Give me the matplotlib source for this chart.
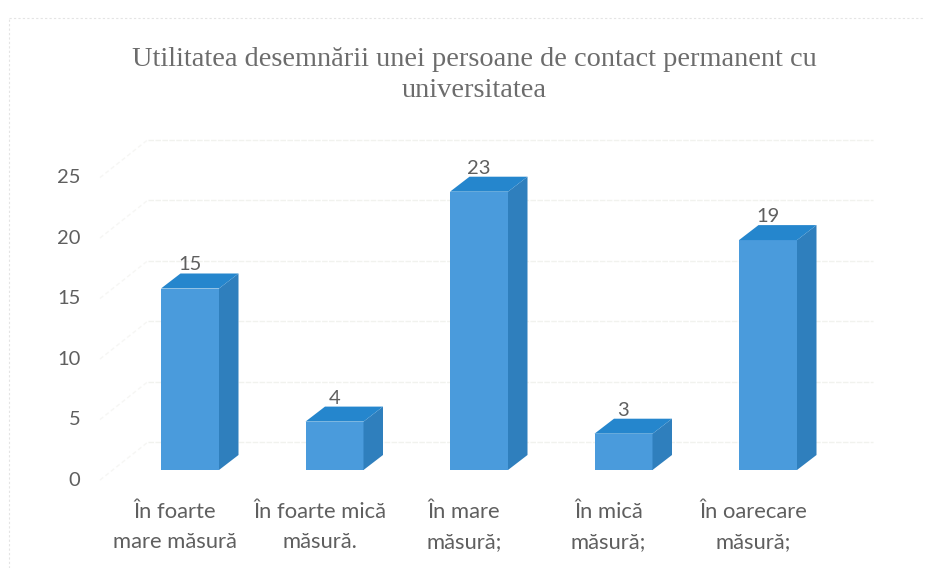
import matplotlib.pyplot as plt
from matplotlib.patches import Polygon
from matplotlib.lines import Line2D

title = "Utilitatea desemnării unei persoane de contact permanent cu\nuniversitatea"
categories = ["În foarte\nmare măsură", "În foarte mică\nmăsură.", "În mare\nmăsură;",
              "În mică\nmăsură;", "În oarecare\nmăsură;"]
values = [15, 4, 23, 3, 19]
yticks = [0, 5, 10, 15, 20, 25]

W, H = 925, 568
# pixels per category / per unit, used to place the axes
x0, dx_px = 190, 144.5
y0, dy_px = 470, 12.1

fig = plt.figure(figsize=(W / 100, H / 100), dpi=100, facecolor="white")
left = x0 - 0.5 * dx_px
bottom = H - y0
ax = fig.add_axes([left / W, bottom / H, 5 * dx_px / W, 25 * dy_px / H])
ax.set_xlim(-0.5, 4.5)
ax.set_ylim(0, 25)
ax.axis("off")

text_col = "#5f5f5f"
front, side, top = "#4a9bdc", "#2f7fbd", "#2586cd"
bar_w = 58 / dx_px
depth_x = 19.5 / dx_px
depth_y = 15 / dy_px

# back wall: gridlines plus the diagonals coming from the axis
wall_x = 48 / dx_px
wall_start = (100 - x0) / dx_px
for t in yticks:
    yb = t + 2.31
    ax.add_line(Line2D([wall_start + wall_x, 4.727], [yb, yb], color="#f1f2ee", lw=1,
                       ls=(0, (4, 1)), clip_on=False, zorder=1))
    ax.add_line(Line2D([wall_start, wall_start + wall_x], [t - 0.83, yb], color="#f6f6f4", lw=1,
                       ls=(0, (3, 2)), clip_on=False, zorder=1))
    ax.text(-0.7595, t - 0.83, str(t), ha="right", va="center", fontsize=14.5,
            family="Lato", color=text_col)

# 3D look: top and side faces next to the real bars
pos = list(range(len(values)))
ax.bar(pos, values, width=bar_w, color=front, zorder=3, clip_on=False)
for i, v in zip(pos, values):
    l, r = i - bar_w / 2, i + bar_w / 2
    ax.add_patch(Polygon([(r, 0), (r + depth_x, depth_y), (r + depth_x, v + depth_y), (r, v)],
                         color=side, lw=0, zorder=3, clip_on=False))
    ax.add_patch(Polygon([(l, v), (l + depth_x, v + depth_y), (r + depth_x, v + depth_y), (r, v)],
                         color=top, lw=0, zorder=3, clip_on=False))
    ax.annotate(str(v), (i, v + depth_y), xytext=(0, 0), textcoords="offset points",
                ha="center", va="bottom", fontsize=14.5, family="Lato", color=text_col, zorder=4)

# x labels sit left of the bars in the original
label_shift = -15 / dx_px
for i, lab in zip(pos, categories):
    ax.text(i + label_shift, -4.7, lab, ha="center", va="center", fontsize=15.8, family="Lato",
            color=text_col, linespacing=1.6, clip_on=False)

fig.text(474.5 / W, 1 - 75 / H, title, ha="center", va="center", fontsize=20.4,
         family="Liberation Serif", color="#6c6c6c", linespacing=1.365)

# faint chart frame left on the scan
fig.add_artist(Line2D([9 / W, 9 / W], [0, 1 - 18 / H], color="#e4e4e4", lw=0.8, ls=(0, (2, 2))))
fig.add_artist(Line2D([9 / W, 1], [1 - 18 / H, 1 - 18 / H], color="#e4e4e4", lw=0.8, ls=(0, (2, 2))))

fig.savefig("out.png", dpi=100, facecolor="white")
